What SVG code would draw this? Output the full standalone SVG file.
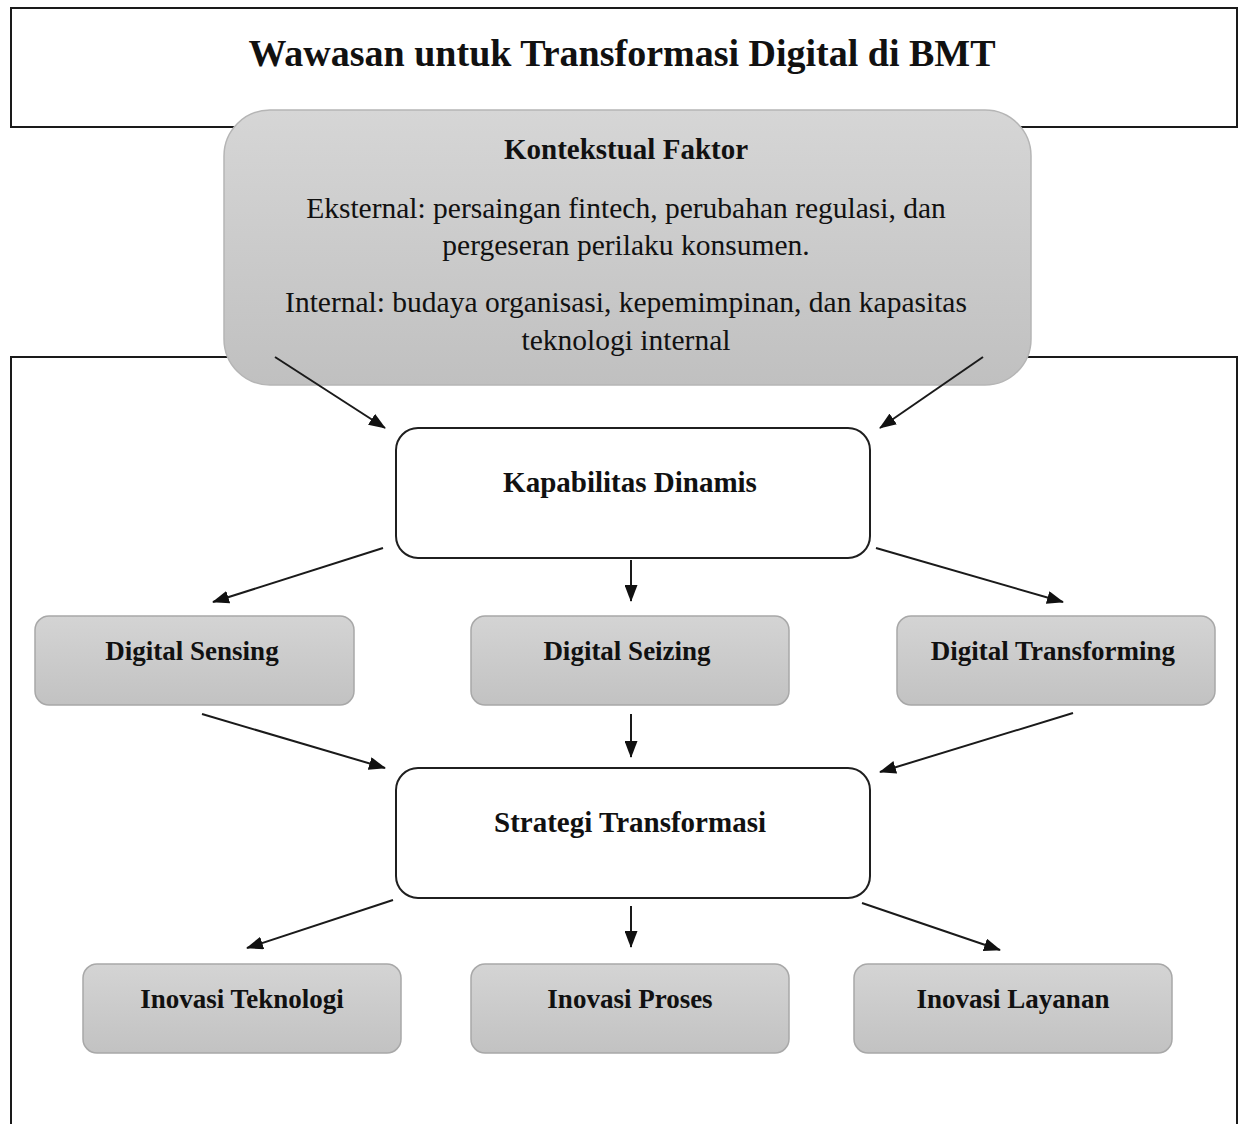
<svg xmlns="http://www.w3.org/2000/svg" width="1239" height="1124" viewBox="0 0 1239 1124">
<style>
  .frame { fill: #ffffff; stroke: #1a1a1a; stroke-width: 2; }
  .ctx { fill: url(#gctx); stroke: #b5b5b5; stroke-width: 1.5; }
  .white { fill: #ffffff; stroke: #1f1f1f; stroke-width: 2; }
  .gray { fill: url(#gbox); stroke: #a8a8a8; stroke-width: 1.5; }
  .t { font-family: "Liberation Serif", "Times New Roman", serif; fill: #111; text-anchor: middle; }
  .b { font-weight: bold; }
  .title { font-size: 38px; }
  .hd { font-size: 29px; }
  .body { font-size: 29.5px; }
  .lbl { font-size: 27px; }
  .conn line { stroke: #1a1a1a; stroke-width: 2; marker-end: url(#arr); }
</style>
<defs>
  <linearGradient id="gctx" x1="0" y1="0" x2="0" y2="1">
    <stop offset="0" stop-color="#d6d6d6"/>
    <stop offset="1" stop-color="#c0c0c0"/>
  </linearGradient>
  <linearGradient id="gbox" x1="0" y1="0" x2="0" y2="1">
    <stop offset="0" stop-color="#d4d4d4"/>
    <stop offset="1" stop-color="#c2c2c2"/>
  </linearGradient>
  <marker id="arr" markerUnits="userSpaceOnUse" markerWidth="17" markerHeight="13" refX="16" refY="6.5" orient="auto">
    <path d="M0,0 L17,6.5 L0,13 z" fill="#111"/>
  </marker>
</defs>
<rect width="1239" height="1124" fill="#ffffff"/>

<g id="title">
  <rect class="frame" x="11" y="8" width="1226" height="119"/>
  <text class="t b title" x="622" y="66">Wawasan untuk Transformasi Digital di BMT</text>
</g>

<g id="outer-frame">
  <path d="M11,1124 L11,357 L1237,357 L1237,1124" fill="none" stroke="#1a1a1a" stroke-width="2"/>
</g>

<g id="kontekstual-faktor">
  <rect class="ctx" x="224" y="110" width="807" height="275" rx="46" ry="46"/>
  <text class="t b hd" x="626" y="159">Kontekstual Faktor</text>
  <text class="t body" x="626" y="218">Eksternal: persaingan fintech, perubahan regulasi, dan</text>
  <text class="t body" x="626" y="255">pergeseran perilaku konsumen.</text>
  <text class="t body" x="626" y="312">Internal: budaya organisasi, kepemimpinan, dan kapasitas</text>
  <text class="t body" x="626" y="350">teknologi internal</text>
</g>

<g id="connectors" class="conn">
  <line x1="275" y1="357" x2="385" y2="428"/>
  <line x1="983" y1="357" x2="880" y2="428"/>
  <line x1="383" y1="548" x2="213" y2="602"/>
  <line x1="631" y1="560" x2="631" y2="601"/>
  <line x1="876" y1="548" x2="1063" y2="602"/>
  <line x1="202" y1="714" x2="385" y2="768"/>
  <line x1="631" y1="714" x2="631" y2="757"/>
  <line x1="1073" y1="713" x2="880" y2="772"/>
  <line x1="393" y1="900" x2="247" y2="948"/>
  <line x1="631" y1="906" x2="631" y2="947"/>
  <line x1="862" y1="903" x2="1000" y2="950"/>
</g>

<g id="kapabilitas-dinamis">
  <rect class="white" x="396" y="428" width="474" height="130" rx="22" ry="22"/>
  <text class="t b hd" x="630" y="492">Kapabilitas Dinamis</text>
</g>

<g id="digital-sensing">
  <rect class="gray" x="35" y="616" width="319" height="89" rx="14" ry="14"/>
  <text class="t b lbl" x="192" y="660">Digital Sensing</text>
</g>
<g id="digital-seizing">
  <rect class="gray" x="471" y="616" width="318" height="89" rx="14" ry="14"/>
  <text class="t b lbl" x="627" y="660">Digital Seizing</text>
</g>
<g id="digital-transforming">
  <rect class="gray" x="897" y="616" width="318" height="89" rx="14" ry="14"/>
  <text class="t b lbl" x="1053" y="660">Digital Transforming</text>
</g>

<g id="strategi-transformasi">
  <rect class="white" x="396" y="768" width="474" height="130" rx="22" ry="22"/>
  <text class="t b hd" x="630" y="832">Strategi Transformasi</text>
</g>

<g id="inovasi-teknologi">
  <rect class="gray" x="83" y="964" width="318" height="89" rx="14" ry="14"/>
  <text class="t b lbl" x="242" y="1008">Inovasi Teknologi</text>
</g>
<g id="inovasi-proses">
  <rect class="gray" x="471" y="964" width="318" height="89" rx="14" ry="14"/>
  <text class="t b lbl" x="630" y="1008">Inovasi Proses</text>
</g>
<g id="inovasi-layanan">
  <rect class="gray" x="854" y="964" width="318" height="89" rx="14" ry="14"/>
  <text class="t b lbl" x="1013" y="1008">Inovasi Layanan</text>
</g>
</svg>
